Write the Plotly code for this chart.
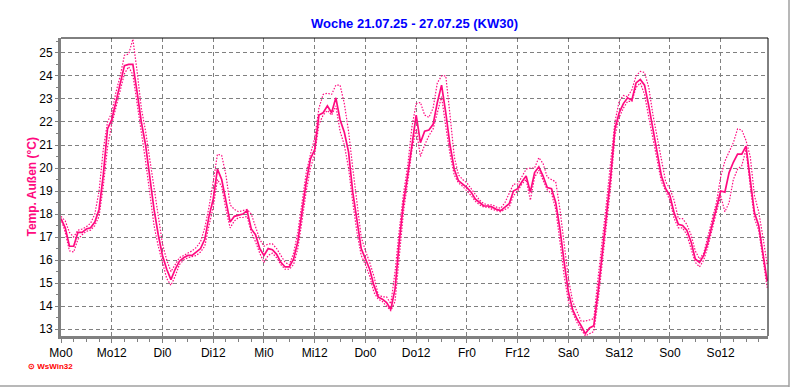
import plotly.graph_objects as go

hours = list(range(168))

temp = [17.8, 17.4, 16.6, 16.6, 17.2, 17.2, 17.35, 17.4, 17.65, 18.2,
        19.7, 21.7, 22.1, 22.9, 23.6, 24.45, 24.5, 24.5, 23.3, 22.0,
        21.0, 19.5, 18.2, 17.1, 16.2, 15.6, 15.15, 15.6, 15.95, 16.1,
        16.2, 16.2, 16.35, 16.5, 16.9, 17.9, 18.65, 19.95, 19.5, 18.65,
        17.65, 17.9, 17.95, 18.0, 18.15, 17.35, 17.1, 16.5, 16.2, 16.5,
        16.45, 16.25, 15.9, 15.7, 15.7, 16.05, 16.8, 18.1, 19.4, 20.4,
        20.8, 22.3, 22.4, 22.7, 22.4, 23.05, 22.1, 21.55, 20.7, 18.95,
        17.65, 16.5, 16.05, 15.6, 14.9, 14.4, 14.3, 14.15, 13.85, 14.75,
        16.8, 18.5, 19.7, 21.1, 22.3, 21.1, 21.6, 21.65, 21.9, 22.85,
        23.6, 22.4, 21.0, 19.95, 19.45, 19.3, 19.15, 18.95, 18.65, 18.5,
        18.35, 18.35, 18.3, 18.2, 18.15, 18.3, 18.45, 19.0, 19.1, 19.4,
        19.65, 18.95, 19.8, 20.05, 19.65, 19.15, 19.1, 18.5, 17.35, 15.9,
        14.6, 13.85, 13.45, 13.15, 12.8, 13.05, 13.15, 14.6, 16.2, 17.8,
        19.65, 21.7, 22.4, 22.8, 23.05, 22.95, 23.7, 23.85, 23.6, 22.7,
        21.7, 20.7, 19.65, 19.1, 18.8, 18.05, 17.55, 17.5, 17.3, 16.8,
        16.05, 15.9, 16.2, 16.8, 17.5, 18.2, 19.0, 18.95, 19.8, 20.25,
        20.6, 20.6, 20.95, 19.5, 18.05, 17.5, 16.35, 15.1]

temp_max = [17.9, 17.7, 17.2, 17.0, 17.3, 17.35, 17.45, 17.6, 18.0, 19.0,
            20.8, 22.0, 22.4, 23.3, 24.0, 24.9, 24.95, 25.6, 24.2, 22.6,
            21.6, 20.4, 19.0, 17.8, 16.7, 16.0, 15.5, 15.8, 16.1, 16.2,
            16.3, 16.4, 16.55, 16.8, 17.4, 18.3, 19.4, 20.6, 20.55, 19.7,
            18.4, 18.2, 18.1, 18.15, 18.2, 18.0, 17.4, 16.9, 16.6, 16.7,
            16.7, 16.5, 16.2, 15.9, 15.8, 16.3, 17.2, 18.6, 19.8, 20.6,
            21.3, 22.6, 23.2, 23.25, 23.2, 23.6, 23.6, 22.8, 21.6, 20.0,
            18.5, 17.0, 16.4, 15.9, 15.3, 14.5, 14.4, 14.4, 14.1, 15.5,
            17.3, 18.9, 20.1, 21.8, 22.8, 22.85, 22.3, 22.2, 22.6, 23.7,
            24.0, 24.0, 22.3, 20.5, 19.7, 19.5, 19.35, 19.1, 18.85, 18.6,
            18.45, 18.4, 18.4, 18.3, 18.25, 18.5, 18.9, 19.3, 19.3, 19.6,
            19.95, 20.0, 20.0, 20.45, 20.2, 19.6, 19.5, 19.4, 18.2, 16.6,
            15.2, 14.2, 13.8, 13.35, 13.35, 13.4, 13.45, 15.2, 16.8, 18.5,
            20.3, 22.0, 22.9, 23.15, 23.1, 23.4, 24.0, 24.2, 24.15, 23.5,
            22.3, 21.3, 20.3, 19.4, 19.1, 18.6, 17.8, 17.8, 17.55, 17.1,
            16.4, 16.05, 16.3, 17.0, 17.7, 18.5, 19.6, 20.3, 20.7, 21.1,
            21.7, 21.65, 21.2, 20.5, 18.8, 18.1, 17.0, 15.8]

temp_min = [17.8, 17.2, 16.4, 16.35, 16.9, 17.1, 17.25, 17.3, 17.5, 17.9,
            19.2, 20.9, 21.9, 22.6, 23.3, 24.1, 24.4, 24.05, 22.8, 21.6,
            20.3, 18.9, 17.5, 16.6, 15.9, 15.2, 14.9, 15.3, 15.8, 16.0,
            16.1, 16.15, 16.2, 16.35, 16.6, 17.5, 18.3, 19.5, 19.2, 18.2,
            17.4, 17.7, 17.85, 17.85, 17.9, 17.2, 16.8, 16.3, 15.9, 16.2,
            16.3, 16.1, 15.8, 15.6, 15.6, 15.8, 16.5, 17.7, 19.0, 20.0,
            20.6, 21.9, 22.3, 22.5, 22.3, 22.7, 21.6, 21.0, 20.0, 18.5,
            17.2, 16.2, 15.8, 15.3, 14.6, 14.3, 14.2, 14.0, 13.8, 14.2,
            16.2, 18.1, 19.4, 20.8, 21.7, 20.5, 21.0, 21.4, 21.7, 22.4,
            23.1, 21.8, 20.6, 19.7, 19.35, 19.2, 19.0, 18.8, 18.55, 18.4,
            18.3, 18.3, 18.2, 18.15, 18.1, 18.2, 18.3, 18.8, 19.0, 19.3,
            19.5, 18.6, 19.6, 19.9, 19.5, 19.05, 18.9, 18.2, 16.8, 15.3,
            14.2, 13.7, 13.3, 13.0, 12.7, 12.8, 12.9, 14.2, 15.8, 17.4,
            19.2, 21.4, 22.2, 22.6, 22.9, 22.9, 23.5, 23.7, 23.2, 22.2,
            21.3, 20.3, 19.4, 19.0, 18.6, 17.8, 17.4, 17.4, 17.1, 16.5,
            15.9, 15.7, 16.0, 16.6, 17.3, 18.0, 18.8, 18.1, 18.5, 19.5,
            19.95, 20.1, 20.8, 19.2, 17.8, 17.3, 16.0, 14.8]

x_tick_vals = [0, 12, 24, 36, 48, 60, 72, 84, 96, 108, 120, 132, 144, 156]
x_tick_text = ["Mo0", "Mo12", "Di0", "Di12", "Mi0", "Mi12", "Do0", "Do12",
               "Fr0", "Fr12", "Sa0", "Sa12", "So0", "So12"]
y_tick_vals = list(range(13, 26))

title_text = "Woche 21.07.25 - 27.07.25 (KW30)"
y_title = "Temp. Außen (°C)"

PINK = "#ff0a80"
GRID = "#808080"
FONT = "Liberation Sans, Arial, sans-serif"

fig = go.Figure()
fig.add_trace(go.Scatter(x=hours, y=temp_max, mode="lines",
                         line=dict(color=PINK, width=1.2, dash="1.5px,1.5px"),
                         hoverinfo="skip", showlegend=False))
fig.add_trace(go.Scatter(x=hours, y=temp_min, mode="lines",
                         line=dict(color=PINK, width=1.2, dash="1.5px,1.5px"),
                         hoverinfo="skip", showlegend=False))
fig.add_trace(go.Scatter(x=hours, y=temp, mode="lines",
                         line=dict(color=PINK, width=1.7),
                         showlegend=False))

fig.update_layout(
    width=792, height=387, autosize=False,
    margin=dict(l=61, r=24, t=38, b=51),
    paper_bgcolor="white", plot_bgcolor="white",
    font=dict(family=FONT, size=12, color="black"),
    title=dict(text="<b>" + title_text + "</b>", x=0.5, xanchor="center",
               xref="paper", y=1 - 23 / 387, yanchor="middle",
               font=dict(family=FONT, size=13, color="#0000ff")),
    xaxis=dict(range=[0, 167.2], tickmode="array", tickvals=x_tick_vals,
               ticktext=x_tick_text, showgrid=True, gridcolor=GRID,
               griddash="4px,3px", gridwidth=1, showline=True,
               linecolor=GRID, linewidth=3, ticks="outside", ticklen=4,
               tickcolor=GRID, tickwidth=1, zeroline=False,
               tickfont=dict(size=12, family=FONT, color="black"),
               minor=dict(dtick=3, ticks="outside", ticklen=3,
                          tickcolor=GRID, showgrid=False)),
    yaxis=dict(range=[12.7, 25.65], tickmode="array", tickvals=y_tick_vals,
               showgrid=True, gridcolor=GRID, griddash="4px,3px",
               gridwidth=1, showline=True, linecolor=GRID, linewidth=3,
               ticks="outside", ticklen=3, tickcolor=GRID, zeroline=False,
               tickfont=dict(size=12, family=FONT, color="black"),
               minor=dict(dtick=0.5, ticks="outside", ticklen=2,
                          tickcolor=GRID, showgrid=False)),
)

# black frame top and right
fig.add_shape(type="line", xref="paper", yref="paper", x0=0, x1=1, y0=1, y1=1,
              line=dict(color="black", width=1))
fig.add_shape(type="line", xref="paper", yref="paper", x0=1, x1=1, y0=0, y1=1,
              line=dict(color="black", width=1))
# outer image border (right, bottom)
fig.add_shape(type="line", xref="paper", yref="paper",
              x0=(789 - 61) / 707, x1=(789 - 61) / 707, y0=(336 - 387) / 298,
              y1=(336 + 0) / 298, line=dict(color="#a0a0a0", width=1.5))
fig.add_shape(type="line", xref="paper", yref="paper",
              x0=-61 / 707, x1=(789 - 61) / 707, y0=(336 - 386) / 298,
              y1=(336 - 386) / 298, line=dict(color="#a0a0a0", width=1.5))

fig.add_annotation(text="<b>" + y_title + "</b>", xref="paper", yref="paper",
                   x=0, y=0.5, xshift=-29.5, textangle=-90, showarrow=False,
                   xanchor="center", yanchor="middle",
                   font=dict(family=FONT, size=12, color=PINK))
fig.add_annotation(text="<b>⊙ WsWin32</b>", xref="paper", yref="paper",
                   x=-61 / 707 + 26 / 707, y=(336 - 366) / 298,
                   xanchor="left", yanchor="middle", showarrow=False,
                   font=dict(family=FONT, size=8, color="#ff0000"))

fig.write_html("out.html",
               config={"displayModeBar": False},
               post_script="document.body.style.margin='0';"
                           "document.body.style.padding='0';")
